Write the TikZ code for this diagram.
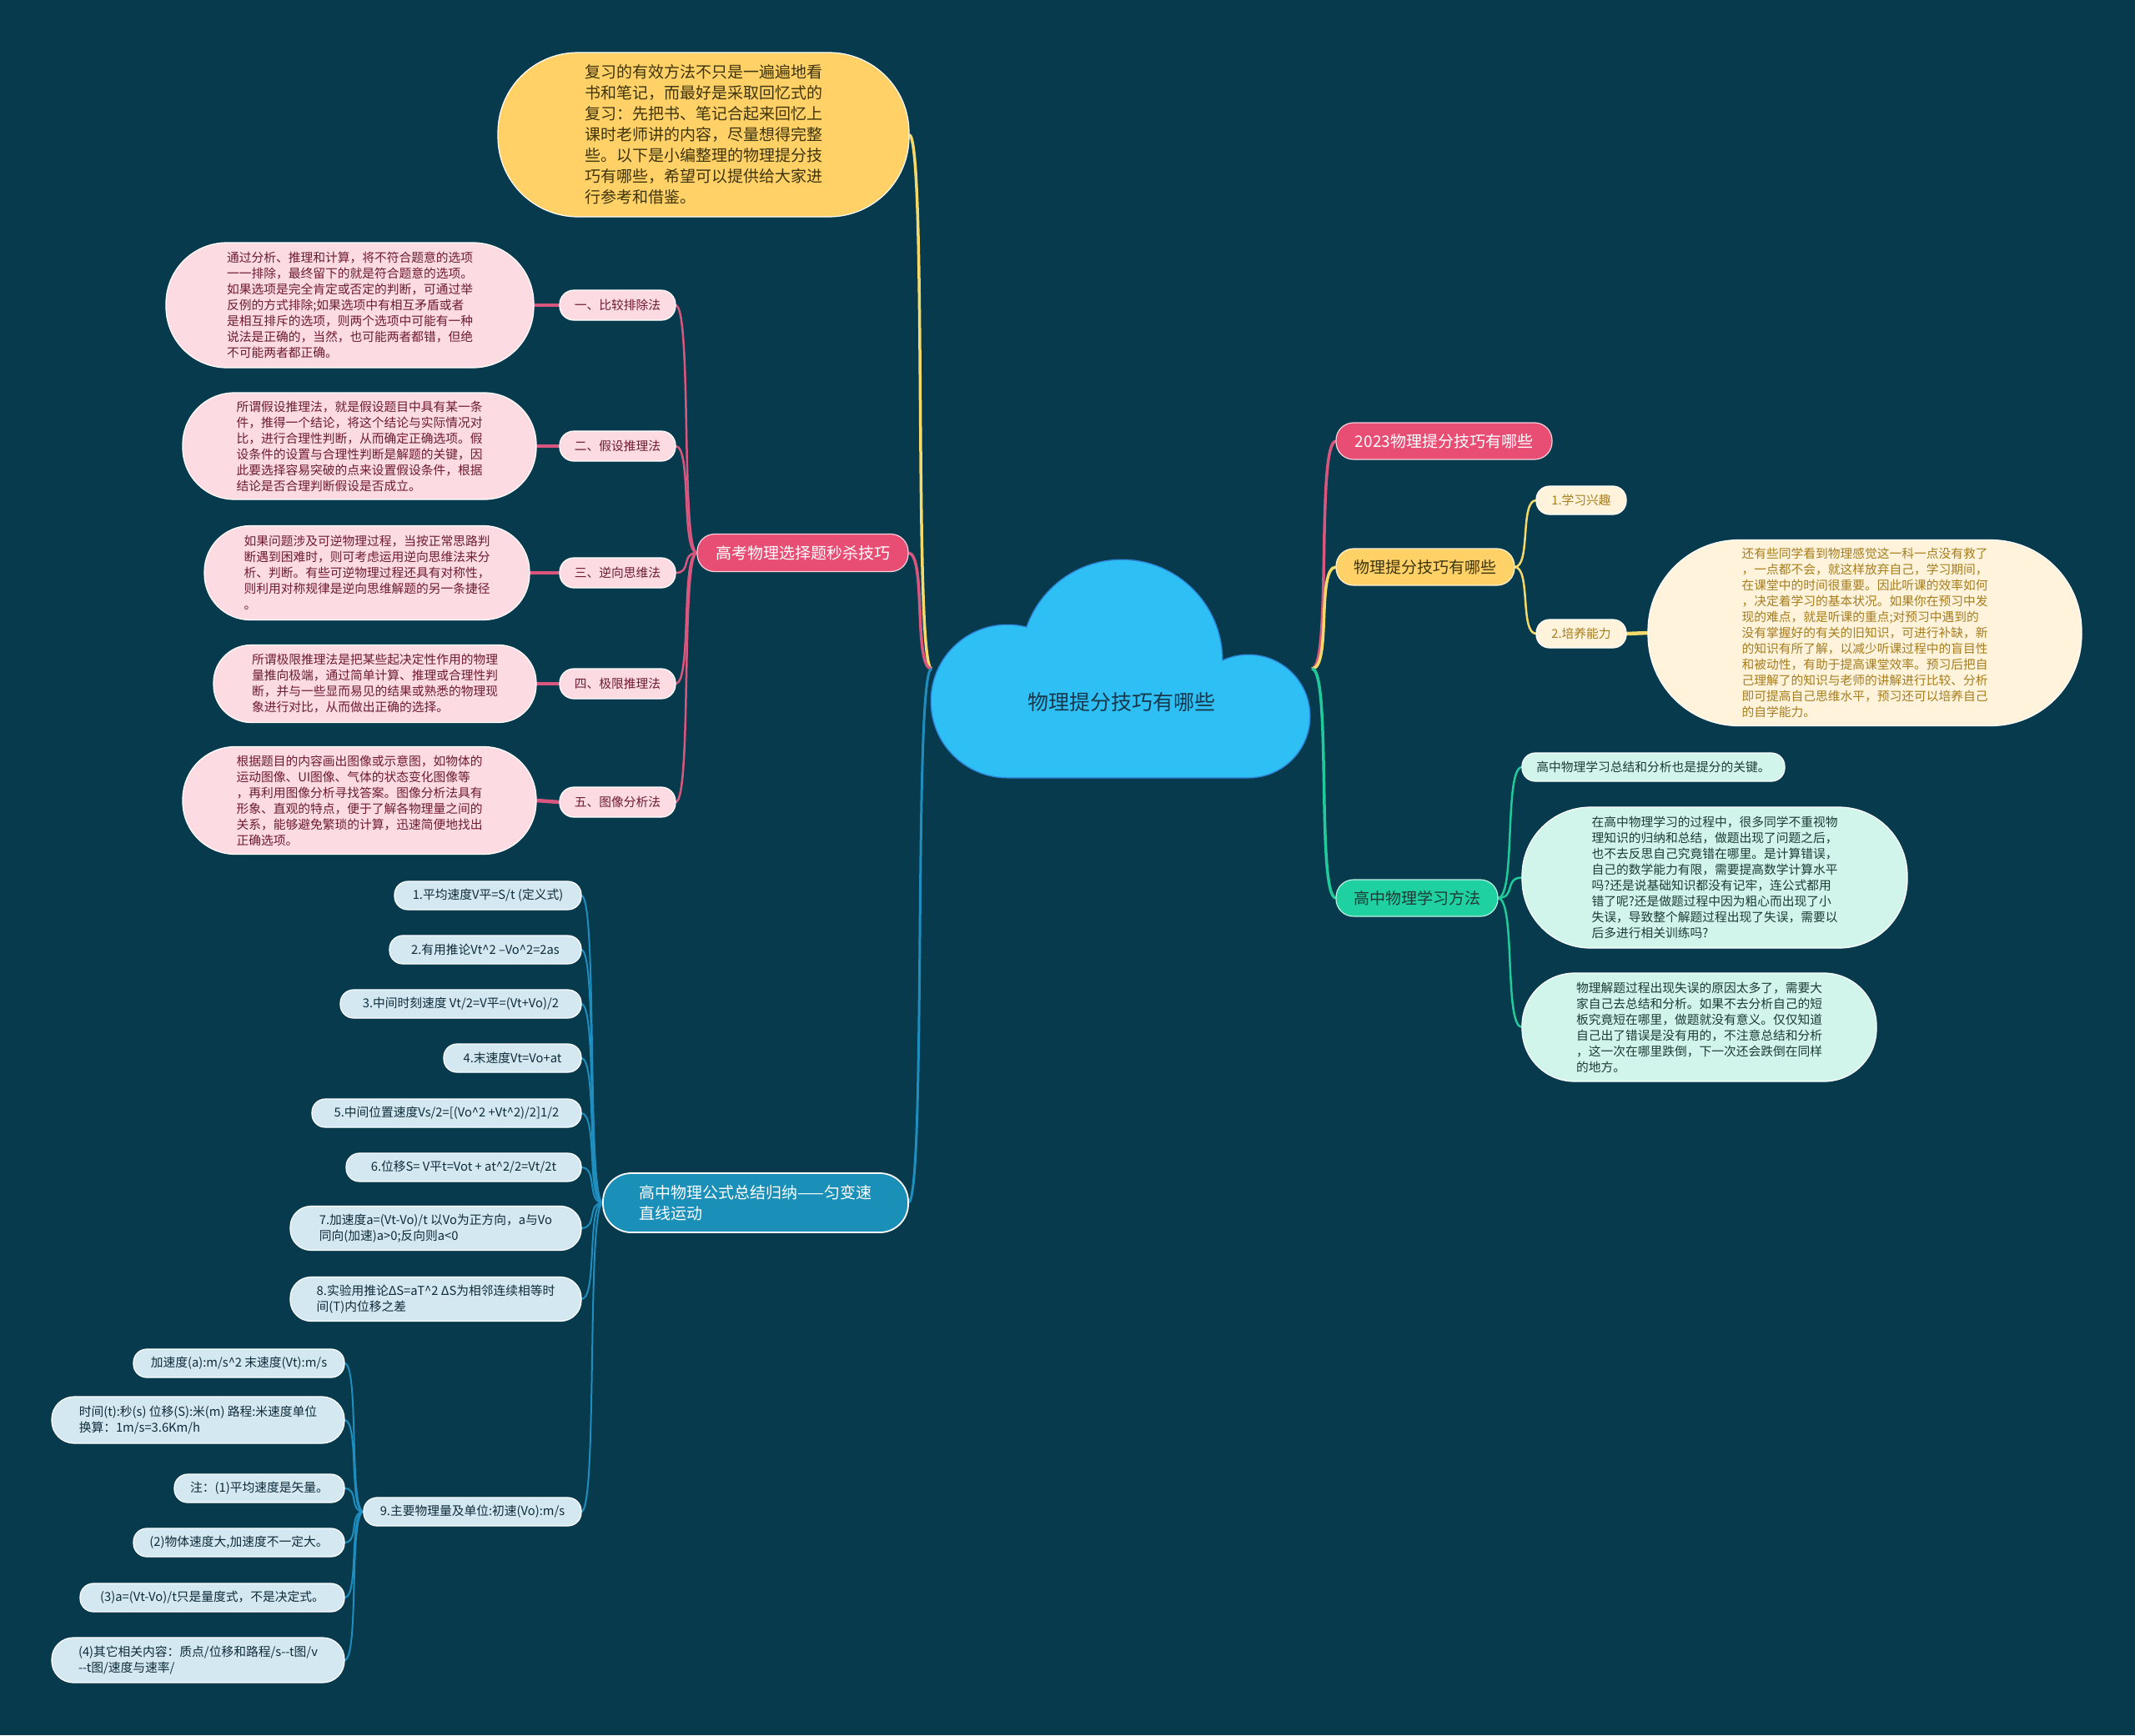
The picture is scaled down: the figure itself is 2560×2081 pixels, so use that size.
\documentclass[tikz,border=0pt]{standalone}
\usepackage{fontspec}
\setmainfont{Noto Sans CJK SC}
\pgfdeclarelayer{back}
\pgfdeclarelayer{edges}
\pgfsetlayers{back,edges,main}
\definecolor{bg}{HTML}{073A4D}
\definecolor{cloudfill}{HTML}{2EC0F5}
\definecolor{cloudline}{HTML}{2D86D8}
\definecolor{cloudtext}{HTML}{17374A}
\definecolor{yel}{HTML}{FFD166}
\definecolor{yelline}{HTML}{F6D96B}
\definecolor{introtext}{HTML}{3E340E}
\definecolor{pinkmain}{HTML}{E84D74}
\definecolor{pinkline}{HTML}{D9577E}
\definecolor{pinklight}{HTML}{FCDCE2}
\definecolor{pinktext}{HTML}{6E1B30}
\definecolor{cream}{HTML}{FFF4DB}
\definecolor{creamtext}{HTML}{A67C1E}
\definecolor{tealmain}{HTML}{1FD0A0}
\definecolor{tealline}{HTML}{22C99A}
\definecolor{mint}{HTML}{D2F5EB}
\definecolor{minttext}{HTML}{1C3A36}
\definecolor{bluemain}{HTML}{1A8FB8}
\definecolor{blueline}{HTML}{1F8EBE}
\definecolor{bluelight}{HTML}{D3E8F1}
\definecolor{bluetext}{HTML}{0F2C3A}
\begin{document}
\begin{tikzpicture}[x=1pt,y=-1pt,
  base/.style={inner sep=0pt, outer sep=0pt, align=left, line width=1.2pt},
  ftS/.style={font=\fontsize{14.75pt}{19pt}\selectfont},
  ftM/.style={font=\fontsize{19pt}{25pt}\selectfont},
  introbox/.style={base, ftM, fill=yel, draw=white, text=introtext},
  pmain/.style={base, ftM, fill=pinkmain, draw=white!75!pinkmain, text=white},
  pchild/.style={base, ftS, fill=pinklight, draw=white, text=pinktext},
  ymain/.style={base, ftM, fill=yel, draw=white!70!yel, text=introtext},
  ychild/.style={base, ftS, fill=cream, draw=white, text=creamtext},
  tmain/.style={base, ftM, fill=tealmain, draw=white!70!tealmain, text=minttext},
  tchild/.style={base, ftS, fill=mint, draw=white, text=minttext},
  bmain/.style={base, ftM, fill=bluemain, draw=white, line width=1.8pt, text=white},
  bchild/.style={base, ftS, fill=bluelight, draw=white, text=bluetext},
  lk/.style={out=180,in=0,out distance=#1,in distance=#1},
  rk/.style={out=0,in=180,out distance=#1,in distance=#1},
  yline/.style={draw=yelline, line width=3pt},
  pline/.style={draw=pinkline, line width=2.5pt},
  tline/.style={draw=tealline, line width=2.5pt},
  bline/.style={draw=blueline, line width=2pt}]
\begin{pgfonlayer}{back}
\fill[bg] (0,0) rectangle (2560,2081);
\end{pgfonlayer}
\useasboundingbox (0,0) rectangle (2560,2081);

% cloud
\path[draw=cloudline, line width=3pt] (1208,841) circle (91pt) (1345,792) circle (120pt) (1497,859) circle (73pt) (1208,850) rectangle (1497,932);
\path[fill=cloudfill] (1208,841) circle (91pt) (1345,792) circle (120pt) (1497,859) circle (73pt) (1208,850) rectangle (1497,932);
\node[font=\fontsize{25pt}{30pt}\selectfont, text=cloudtext, inner sep=0pt] (root) at (1345,842) {物理提分技巧有哪些};
\coordinate (L) at (1117,802);
\coordinate (R) at (1573,802);

% intro
\node[introbox, minimum width=493, minimum height=197, rounded corners=96] (intro) at (843.5,161.5) {复习的有效方法不只是一遍遍地看\\书和笔记，而最好是采取回忆式的\\复习：先把书、笔记合起来回忆上\\课时老师讲的内容，尽量想得完整\\些。以下是小编整理的物理提分技\\巧有哪些，希望可以提供给大家进\\行参考和借鉴。};

% pink branch
\node[pmain, minimum width=253, minimum height=45, rounded corners=21] (gk) at (962.5,663) {高考物理选择题秒杀技巧};
\node[pchild, minimum width=139, minimum height=36, rounded corners=17] (p1) at (740.5,366) {一、比较排除法};
\node[pchild, minimum width=139, minimum height=36, rounded corners=17] (p2) at (740.5,535) {二、假设推理法};
\node[pchild, minimum width=139, minimum height=36, rounded corners=17] (p3) at (740.5,687) {三、逆向思维法};
\node[pchild, minimum width=139, minimum height=36, rounded corners=17] (p4) at (740.5,820) {四、极限推理法};
\node[pchild, minimum width=139, minimum height=36, rounded corners=17] (p5) at (740.5,962) {五、图像分析法};
\node[pchild, minimum width=441, minimum height=150, rounded corners=73] (b1) at (419.5,366) {通过分析、推理和计算，将不符合题意的选项\\一一排除，最终留下的就是符合题意的选项。\\如果选项是完全肯定或否定的判断，可通过举\\反例的方式排除;如果选项中有相互矛盾或者\\是相互排斥的选项，则两个选项中可能有一种\\说法是正确的，当然，也可能两者都错，但绝\\不可能两者都正确。};
\node[pchild, minimum width=424, minimum height=128, rounded corners=62] (b2) at (431,535) {所谓假设推理法，就是假设题目中具有某一条\\件，推得一个结论，将这个结论与实际情况对\\比，进行合理性判断，从而确定正确选项。假\\设条件的设置与合理性判断是解题的关键，因\\此要选择容易突破的点来设置假设条件，根据\\结论是否合理判断假设是否成立。};
\node[pchild, minimum width=390, minimum height=113, rounded corners=55] (b3) at (440,687) {如果问题涉及可逆物理过程，当按正常思路判\\断遇到困难时，则可考虑运用逆向思维法来分\\析、判断。有些可逆物理过程还具有对称性，\\则利用对称规律是逆向思维解题的另一条捷径\\。};
\node[pchild, minimum width=387, minimum height=93, rounded corners=45] (b4) at (449.5,820) {所谓极限推理法是把某些起决定性作用的物理\\量推向极端，通过简单计算、推理或合理性判\\断，并与一些显而易见的结果或熟悉的物理现\\象进行对比，从而做出正确的选择。};
\node[pchild, minimum width=424, minimum height=129, rounded corners=63] (b5) at (431,960) {根据题目的内容画出图像或示意图，如物体的\\运动图像、UI图像、气体的状态变化图像等\\，再利用图像分析寻找答案。图像分析法具有\\形象、直观的特点，便于了解各物理量之间的\\关系，能够避免繁琐的计算，迅速简便地找出\\正确选项。};

% right: 2023
\node[pmain, minimum width=259, minimum height=44, rounded corners=21] (n2023) at (1731.5,529) {2023物理提分技巧有哪些};
% right: tips
\node[ymain, minimum width=214, minimum height=44, rounded corners=21] (tips) at (1709,680) {物理提分技巧有哪些};
\node[ychild, minimum width=108, minimum height=34, rounded corners=16] (s1) at (1896,600) {1.学习兴趣};
\node[ychild, minimum width=108, minimum height=34, rounded corners=16] (s2) at (1896,760) {2.培养能力};
\node[ychild, minimum width=520, minimum height=223, rounded corners=109] (cr) at (2236,759) {还有些同学看到物理感觉这一科一点没有救了\\，一点都不会，就这样放弃自己，学习期间，\\在课堂中的时间很重要。因此听课的效率如何\\，决定着学习的基本状况。如果你在预习中发\\现的难点，就是听课的重点;对预习中遇到的\\没有掌握好的有关的旧知识，可进行补缺，新\\的知识有所了解，以减少听课过程中的盲目性\\和被动性，有助于提高课堂效率。预习后把自\\己理解了的知识与老师的讲解进行比较、分析\\即可提高自己思维水平，预习还可以培养自己\\的自学能力。};
% right: methods
\node[tmain, minimum width=194, minimum height=44, rounded corners=21] (meth) at (1699,1077) {高中物理学习方法};
\node[tchild, minimum width=315, minimum height=34, rounded corners=16] (m1) at (1982.5,920) {高中物理学习总结和分析也是提分的关键。};
\node[tchild, minimum width=462, minimum height=169, rounded corners=82] (m2) at (2056,1052.5) {在高中物理学习的过程中，很多同学不重视物\\理知识的归纳和总结，做题出现了问题之后，\\也不去反思自己究竟错在哪里。是计算错误，\\自己的数学能力有限，需要提高数学计算水平\\吗?还是说基础知识都没有记牢，连公式都用\\错了呢?还是做题过程中因为粗心而出现了小\\失误，导致整个解题过程出现了失误，需要以\\后多进行相关训练吗?};
\node[tchild, minimum width=425, minimum height=130, rounded corners=63] (m3) at (2037.5,1232) {物理解题过程出现失误的原因太多了，需要大\\家自己去总结和分析。如果不去分析自己的短\\板究竟短在哪里，做题就没有意义。仅仅知道\\自己出了错误是没有用的，不注意总结和分析\\，这一次在哪里跌倒，下一次还会跌倒在同样\\的地方。};

% blue branch
\node[bmain, minimum width=366, minimum height=71, rounded corners=34] (gs) at (906,1442.5) {高中物理公式总结归纳——匀变速\\直线运动};
\node[bchild, minimum width=224, minimum height=34, rounded corners=16] (f1) at (585,1074) {1.平均速度V平=S/t (定义式)};
\node[bchild, minimum width=230, minimum height=34, rounded corners=16] (f2) at (582,1139) {2.有用推论Vt\textasciicircum 2 –Vo\textasciicircum 2=2as};
\node[bchild, minimum width=289, minimum height=34, rounded corners=16] (f3) at (552.5,1204) {3.中间时刻速度 Vt/2=V平=(Vt+Vo)/2};
\node[bchild, minimum width=165, minimum height=34, rounded corners=16] (f4) at (614.5,1269) {4.末速度Vt=Vo+at};
\node[bchild, minimum width=323, minimum height=34, rounded corners=16] (f5) at (535.5,1335) {5.中间位置速度Vs/2=[(Vo\textasciicircum 2 +Vt\textasciicircum 2)/2]1/2};
\node[bchild, minimum width=282, minimum height=34, rounded corners=16] (f6) at (556,1400) {6.位移S= V平t=Vot + at\textasciicircum 2/2=Vt/2t};
\node[bchild, minimum width=349, minimum height=53, rounded corners=25] (f7) at (522.5,1473) {7.加速度a=(Vt-Vo)/t 以Vo为正方向，a与Vo\\同向(加速)a>0;反向则a<0};
\node[bchild, minimum width=349, minimum height=53, rounded corners=25] (f8) at (522.5,1558) {8.实验用推论ΔS=aT\textasciicircum 2 ΔS为相邻连续相等时\\间(T)内位移之差};
\node[bchild, minimum width=261, minimum height=34, rounded corners=16] (f9) at (566.5,1813) {9.主要物理量及单位:初速(Vo):m/s};
\node[bchild, minimum width=253, minimum height=34, rounded corners=16] (g1) at (286.5,1635) {加速度(a):m/s\textasciicircum 2 末速度(Vt):m/s};
\node[bchild, minimum width=351, minimum height=56, rounded corners=27] (g2) at (237.5,1703) {时间(t):秒(s) 位移(S):米(m) 路程:米速度单位\\换算：1m/s=3.6Km/h};
\node[bchild, minimum width=204, minimum height=34, rounded corners=16] (g3) at (311,1785) {注：(1)平均速度是矢量。};
\node[bchild, minimum width=253, minimum height=34, rounded corners=16] (g4) at (286.5,1850) {(2)物体速度大,加速度不一定大。};
\node[bchild, minimum width=317, minimum height=34, rounded corners=16] (g5) at (254.5,1916) {(3)a=(Vt-Vo)/t只是量度式，不是决定式。};
\node[bchild, minimum width=351, minimum height=54, rounded corners=26] (g6) at (237.5,1991) {(4)其它相关内容：质点/位移和路程/s-\kern0pt-t图/v\\-\kern0pt-t图/速度与速率/};

% connectors
\begin{pgfonlayer}{edges}
\draw[yline, line width=3.5pt] (L) to[lk=22] (intro.east);
\draw[pline, line width=3.5pt] (L) to[lk=22] (gk.east);
\draw[bline, line width=3pt] (L) to[lk=22] (gs.east);
\draw[pline, line width=3.5pt] (R) to[rk=24] (n2023.west);
\draw[yline, line width=3.5pt] (R) to[rk=24] (tips.west);
\draw[tline, line width=3.5pt] (R) to[rk=24] (meth.west);
\foreach \i in {1,...,5} {
  \draw[pline] (gk.west) to[lk=20] (p\i.east);
  \draw[pline, line width=4.5pt] (p\i.west) -- (b\i.east);
}
\draw[yline, line width=2.5pt] (tips.east) to[rk=20] (s1.west);
\draw[yline, line width=2.5pt] (tips.east) to[rk=20] (s2.west);
\draw[yline, line width=4.5pt] (s2.east) -- (cr.west);
\foreach \i in {1,2,3} {
  \draw[tline] (meth.east) to[rk=22] (m\i.west);
}
\foreach \i in {1,...,9} {
  \draw[bline] (gs.west) to[lk=20] (f\i.east);
}
\foreach \i in {1,...,6} {
  \draw[bline] (f9.west) to[lk=18] (g\i.east);
}
\end{pgfonlayer}
\end{tikzpicture}
\end{document}
